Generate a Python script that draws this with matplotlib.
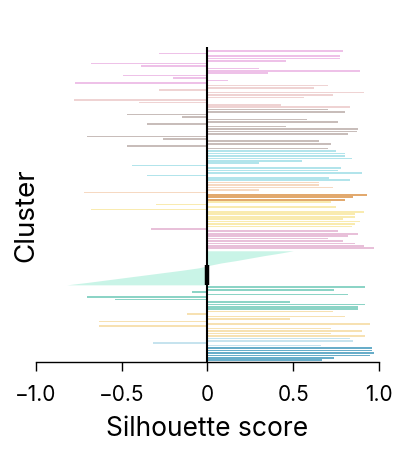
import matplotlib
matplotlib.use("Agg")
import matplotlib.pyplot as plt

plt.rcParams['font.family'] = ['Inter', 'DejaVu Sans']

# Silhouette scores per sample, grouped by cluster (top to bottom as drawn)
orchid = [0.79, -0.28, 0.77, 0.77, 0.46, -0.68, -0.39, 0.30, 0.89, 0.35, -0.49, -0.20, 0.12, -0.77]
rosy = [0.70, 0.62, -0.28, 0.91, 0.73, 0.56, -0.78, -0.40, 0.43, 0.83]
taupe = [0.70, 0.80, -0.47, -0.15, 0.58, 0.76, -0.35, 0.46, 0.88, 0.87, 0.82, -0.70, -0.26, 0.65, 0.72, -0.47, 0.70]
cyan = [0.75, 0.80, 0.80, 0.84, 0.55, 0.30, -0.44, 0.78, 0.76, 0.90, -0.35, 0.71, 0.83]
peach = [0.65, 0.65, 0.73, 0.30, -0.72]
orange = [0.93, 0.85, 0.80]
yellow = [0.72, -0.30, 0.75, -0.68, 0.91, 0.86, 0.86, 0.79, 0.89, 0.86, 0.84]
mauve = [-0.33, 0.76, 0.88, 0.82, 0.70, 0.79, 0.86, 0.91, 0.97]
mint = [0.50, 0.42, 0.33, 0.25, 0.17, 0.08, 0.01, -0.05, -0.15, -0.26, -0.37, -0.48, -0.59, -0.70, -0.82]
teal = [0.92, 0.74, -0.09, 0.82, -0.70, -0.54, 0.48, 0.92, 0.88, 0.88]
wheat = [0.73, -0.12, 0.80, 0.48, -0.63, 0.95, -0.63, 0.72, 0.90, 0.72, 0.92]
light_blue = [0.83, 0.85, -0.32, 0.66]
blue = [0.96, 0.96, 0.97, 0.95, 0.74, 0.67]

clusters = [orchid, rosy, taupe, cyan, peach, orange, yellow, mauve, mint, teal, wheat, light_blue, blue]
colors = ['#e08fd6', '#e0a8a8', '#ab9a96', '#7fd3de', '#f0bb90', '#dd9a55', '#f5dc70',
          '#dc9fc6', '#b3f0dd', '#66c6b3', '#f2cd80', '#a8d4e6', '#4d9fc0']
alphas = [0.55, 0.5, 0.65, 0.6, 0.55, 0.85, 0.55, 0.65, 0.7, 0.75, 0.6, 0.65, 0.85]
heights = [0.65, 0.65, 0.65, 0.65, 0.65, 0.7, 0.65, 0.7, 1.0, 0.65, 0.65, 0.65, 0.7]
wedge_cluster = 8  # the sorted (filled) cluster

fig = plt.figure(figsize=(3.99, 4.56), dpi=100)
ax = fig.add_axes([0.0902, 0.204, 0.8596, 0.691])

start = 0
for k, (vals, col, a, h) in enumerate(zip(clusters, colors, alphas, heights)):
    pos = list(range(start, start + len(vals)))
    if k == wedge_cluster:
        ax.fill_betweenx(pos, 0, vals, color=col, alpha=a, linewidth=0)
        neg = [p for p, v in zip(pos, vals) if v <= 0.01]
        ax.vlines(0, neg[0], neg[-1], color='black', lw=3.2, zorder=5)
    else:
        ax.barh(pos, vals, height=h, color=col, alpha=a, linewidth=0)
    start += len(vals)

n = start
ax.set_ylim(n - 0.3, -1.8)
ax.set_xlim(-1, 1)
ax.axvline(0, color='black', lw=1.5, zorder=4)

for s in ['left', 'top', 'right']:
    ax.spines[s].set_visible(False)
ax.spines['bottom'].set_linewidth(1.0)
ax.set_yticks([])
ax.set_xticks([-1, -0.5, 0, 0.5, 1])
ax.set_xticklabels(['\u22121.0', '\u22120.5', '0', '0.5', '1.0'], fontsize=15)
ax.tick_params(axis='x', direction='out', length=6.5, width=1.0, pad=9, color='black')
ax.set_xlabel('Silhouette score', fontsize=19, labelpad=8)
ax.set_ylabel('Cluster', fontsize=20)
ax.yaxis.set_label_coords(0.009, 0.47)

fig.savefig('out.png', dpi=100)
